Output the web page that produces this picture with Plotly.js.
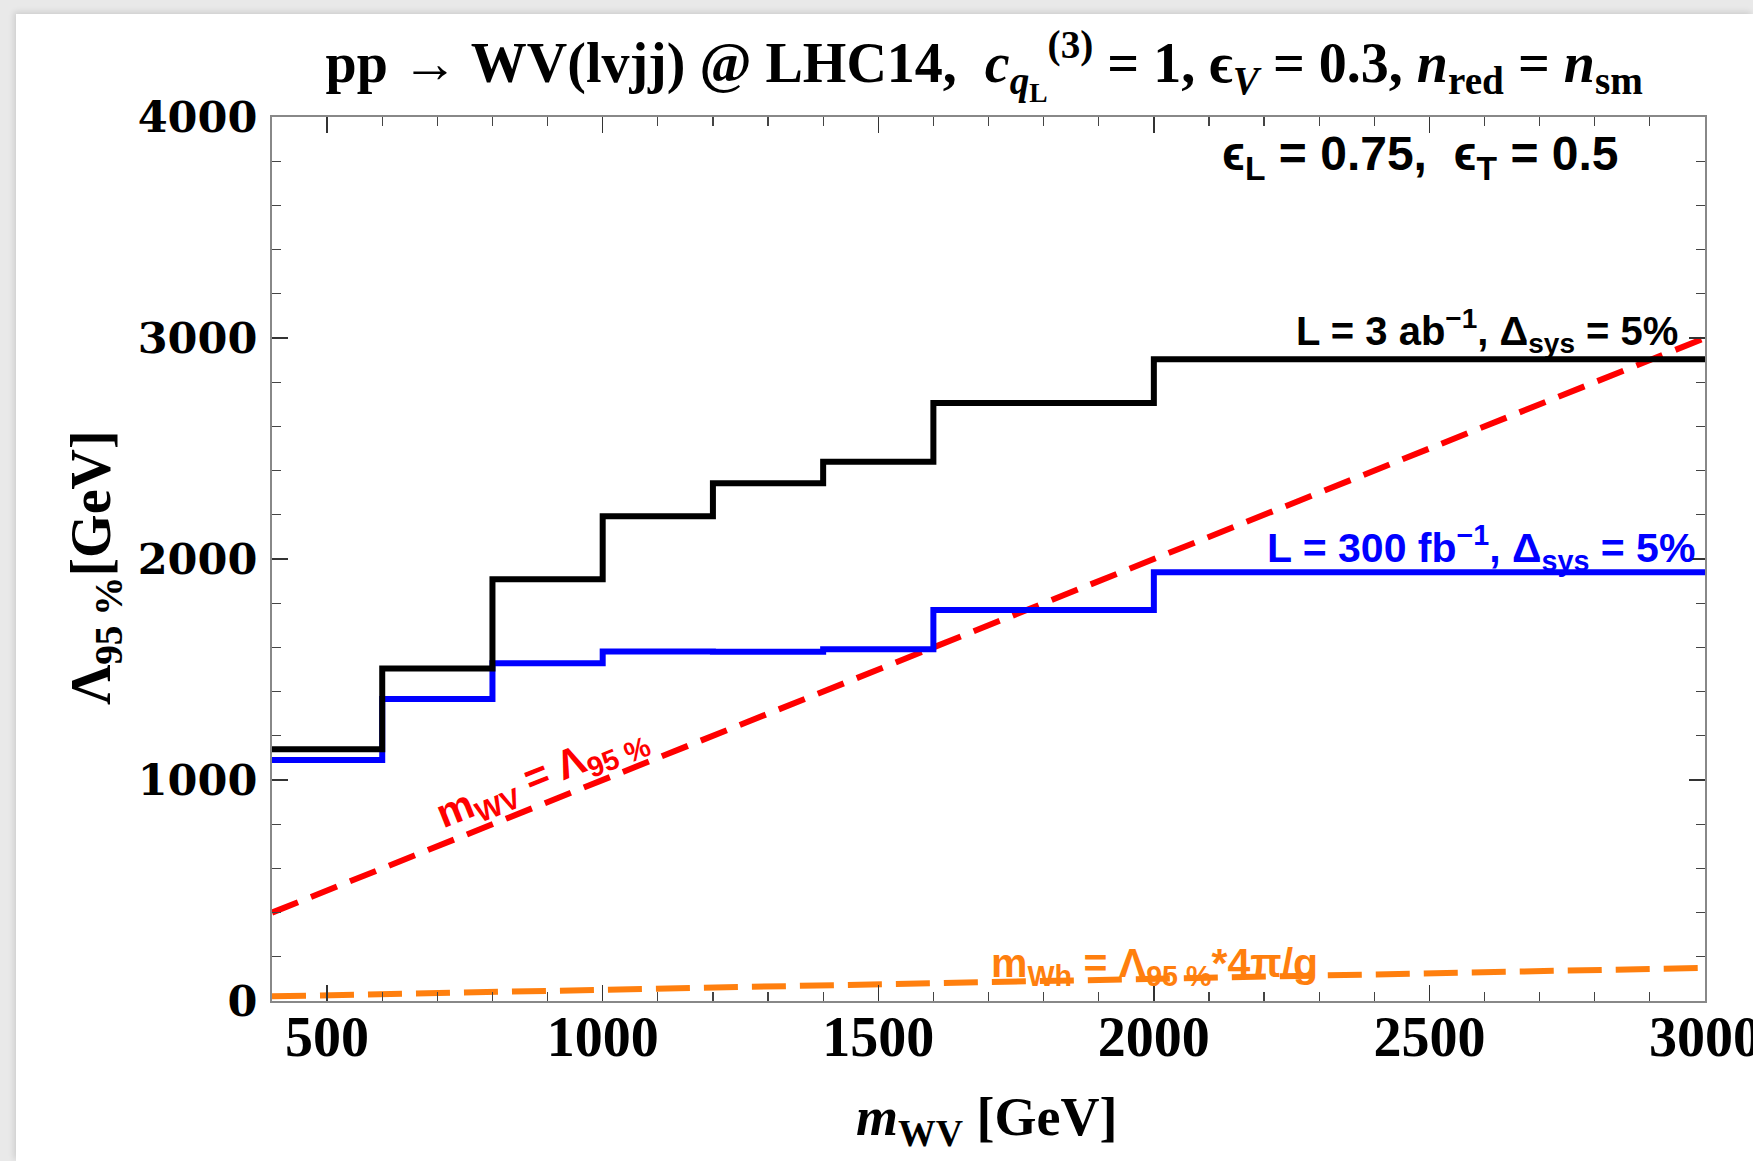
<!DOCTYPE html>
<html>
<head>
<meta charset="utf-8">
<script src="https://cdn.plot.ly/plotly-3.0.1.min.js"></script>
<style>
  html, body { margin: 0; padding: 0; width: 1753px; height: 1161px; background: #e9e9e9; overflow: hidden; }
  #plot { position: absolute; left: 16px; top: 14px; width: 1737px; height: 1147px; background: #ffffff; box-shadow: -2px -2px 6px rgba(0,0,0,0.12); }
</style>
</head>
<body>
<div id="plot"></div>
<script>
// Bin edges in m_WV [GeV]
const binEdges = [400, 600, 800, 1000, 1200, 1400, 1600, 2000, 3000];
// Lambda_95% limits per bin [GeV]
const limit3ab = [1139, 1505, 1908, 2194, 2343, 2440, 2706, 2904];
const limit300fb = [1090, 1366, 1528, 1581, 1580, 1592, 1769, 1940];
// Reference lines
const diagX = [400, 3000];
const diagY = [400, 3000];
const whX = [400, 3000];
const whY = [21, 150];

const xTicks = [500, 1000, 1500, 2000, 2500, 3000];
const yTicks = [0, 1000, 2000, 3000, 4000];

function stepY(v) { return v.concat([v[v.length - 1]]); }

const traces = [
  { x: whX, y: whY, mode: 'lines', line: { color: '#ff7f0e', width: 6, dash: '34px,14px' }, hoverinfo: 'skip' },
  { x: diagX, y: diagY, mode: 'lines', line: { color: '#ff0000', width: 6, dash: '28px,14px' }, hoverinfo: 'skip' },
  { x: binEdges, y: stepY(limit300fb), mode: 'lines', line: { color: '#0000ff', width: 6, shape: 'hv' }, hoverinfo: 'skip' },
  { x: binEdges, y: stepY(limit3ab), mode: 'lines', line: { color: '#000000', width: 6, shape: 'hv' }, hoverinfo: 'skip' }
];

const sans = 'Liberation Sans, Arial, sans-serif';
const serif = 'Liberation Serif, Times New Roman, serif';

const layout = {
  width: 1737, height: 1147,
  paper_bgcolor: '#ffffff', plot_bgcolor: '#ffffff',
  showlegend: false,
  margin: { l: 256, r: 48, t: 103, b: 160 },
  title: {
    text: 'pp → WV(lvjj) @ LHC14,  <i>c</i><sub><i>q</i><sub>L</sub></sub><sup>(3)</sup> = 1, ϵ<sub><i>V</i></sub> = 0.3, <i>n</i><sub>red</sub> = <i>n</i><sub>sm</sub>',
    font: { family: serif, size: 56, color: '#000', weight: 'bold' },
    xref: 'paper', x: 0.497, xanchor: 'center',
    yref: 'container', y: 0.958, yanchor: 'middle'
  },
  xaxis: {
    range: [400, 3000], tickvals: xTicks, ticktext: xTicks.map(String),
    ticks: 'inside', ticklen: 16, tickwidth: 1.5, tickcolor: '#333',
    minor: { dtick: 100, tick0: 0, ticks: 'inside', ticklen: 9, tickwidth: 1.2, tickcolor: '#444' },
    showline: true, linecolor: '#888', linewidth: 2, mirror: 'allticks',
    showgrid: false, zeroline: false,
    tickfont: { family: serif, size: 56, color: '#000', weight: 'bold' },
    ticklabelstandoff: -14, ticklabeloverflow: 'allow'
  },
  yaxis: {
    range: [0, 4000], tickvals: yTicks, ticktext: yTicks.map(String),
    ticks: 'inside', ticklen: 16, tickwidth: 1.5, tickcolor: '#333',
    minor: { dtick: 200, tick0: 0, ticks: 'inside', ticklen: 9, tickwidth: 1.2, tickcolor: '#444' },
    showline: true, linecolor: '#888', linewidth: 2, mirror: 'allticks',
    showgrid: false, zeroline: false,
    tickfont: { family: 'DejaVu Serif, serif', size: 43, color: '#000', weight: 'bold' },
    ticklabelstandoff: 4, ticklabeloverflow: 'allow'
  },
  annotations: [
    { xref: 'paper', yref: 'paper', x: -0.1235, y: 0.49, xanchor: 'center', yanchor: 'middle', textangle: -90,
      text: 'Λ<sub>95 %</sub>[GeV]', showarrow: false,
      font: { family: serif, size: 56, color: '#000', weight: 'bold' } },
    { xref: 'paper', yref: 'paper', x: 0.499, y: -0.135, xanchor: 'center', yanchor: 'middle',
      text: '<i>m</i><sub>WV</sub> [GeV]', showarrow: false,
      font: { family: serif, size: 54, color: '#000', weight: 'bold' } },
    { x: 2847, y: 3820, xanchor: 'right', yanchor: 'middle', showarrow: false,
      text: 'ϵ<sub>L</sub> = 0.75,  ϵ<sub>T</sub> = 0.5',
      font: { family: sans, size: 48, color: '#000', weight: 'bold' } },
    { x: 2954, y: 3030, xanchor: 'right', yanchor: 'middle', showarrow: false,
      text: 'L = 3 ab<sup>−1</sup>, Δ<sub>sys</sub> = 5%',
      font: { family: sans, size: 40, color: '#000', weight: 'bold' } },
    { x: 2985, y: 2050, xanchor: 'right', yanchor: 'middle', showarrow: false,
      text: 'L = 300 fb<sup>−1</sup>, Δ<sub>sys</sub> = 5%',
      font: { family: sans, size: 41, color: '#0000ff', weight: 'bold' } },
    { x: 890, y: 1015, xanchor: 'center', yanchor: 'middle', showarrow: false, textangle: -21.8,
      text: 'm<sub>WV</sub> = Λ<sub>95 %</sub>',
      font: { family: sans, size: 41, color: '#ff0000', weight: 'bold' } },
    { x: 2002, y: 160, xanchor: 'center', yanchor: 'middle', showarrow: false,
      text: 'm<sub>Wh</sub> = Λ<sub>95 %</sub>*4π/g',
      font: { family: sans, size: 41, color: '#ff7f0e', weight: 'bold' } }
  ]
};

Plotly.newPlot('plot', traces, layout, { staticPlot: true, displayModeBar: false });
</script>
</body>
</html>
